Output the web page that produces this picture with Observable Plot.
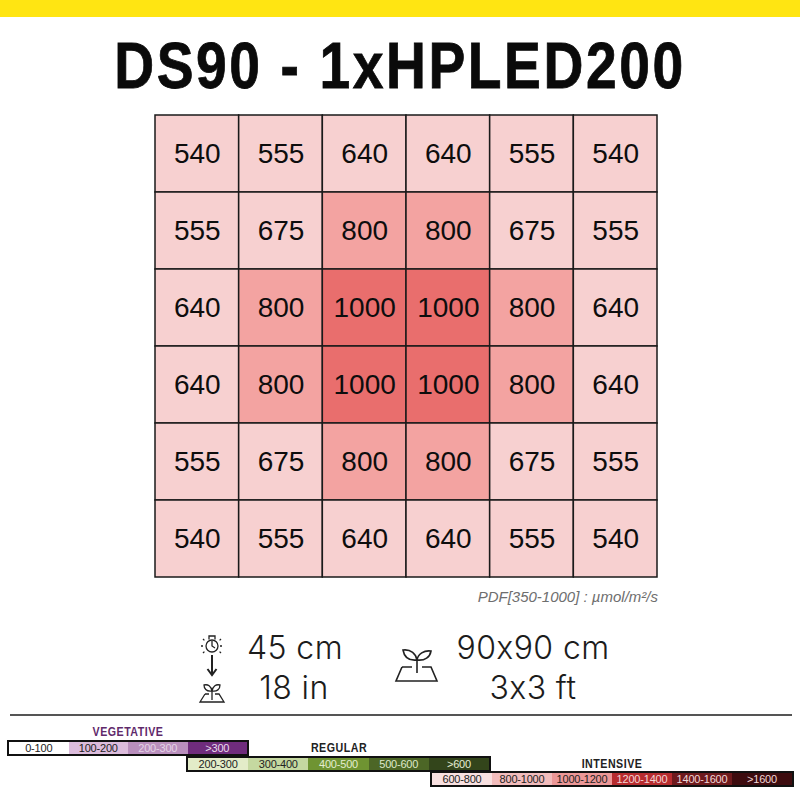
<!DOCTYPE html>
<html><head><meta charset="utf-8">
<script src="https://cdn.jsdelivr.net/npm/d3@7"></script>
<script src="https://cdn.jsdelivr.net/npm/@observablehq/plot@0.6"></script>
<style>
html,body{margin:0;padding:0;background:#fff}
#page{position:relative;width:800px;height:800px;overflow:hidden;font-family:"Liberation Sans",sans-serif}
#page>*{position:absolute}
#bar{left:0;top:0;width:800px;height:17px;background:#ffe512}
#title{left:0;width:800px;top:26px;text-align:center;font:bold 65px/80px "Liberation Sans",sans-serif;color:#0a0a0a;letter-spacing:3px;white-space:pre;-webkit-text-stroke:.8px #0a0a0a;transform:scaleX(.85);transform-origin:50% 50%}
#plot{left:0;top:0}
#plot svg{display:block}
#unit{right:142px;top:588px;font:italic 15px/18px "Liberation Sans",sans-serif;color:#6e6e6e}
.dim{font:300 32px/34px Inter,sans-serif;color:#1c1c1c;text-align:center;white-space:pre;letter-spacing:.4px}
#rule{left:10px;top:714px;width:782px;height:1.5px;background:#555}
.lt{font:bold 13px/14px "Liberation Sans",sans-serif;text-align:center;transform:translateX(-50%) scaleX(.82) scaleY(1.05);letter-spacing:.6px}
.lg{display:flex;box-sizing:border-box;border:2px solid #111;height:16px}
.lg span{flex:1;text-align:center;font:11px/12px "Liberation Sans",sans-serif;letter-spacing:-.2px}
</style></head><body>
<div id="page">
<div id="bar"></div>
<div id="title"></div>
<div id="plot"></div>
<div id="unit"></div>
<div class="dim" id="d1" style="left:225px;top:631px;width:140px"></div>
<div class="dim" id="d2" style="left:225px;top:671px;width:138px"></div>
<div class="dim" id="d3" style="left:433px;top:631px;width:200px"></div>
<div class="dim" id="d4" style="left:433px;top:671px;width:200px"></div>
<svg style="left:195px;top:630px" width="36" height="75" viewBox="0 0 36 75" fill="none" stroke="#222" stroke-width="1.3">
  <circle cx="17" cy="16" r="6"/><path d="M14 9.5 V6 h6 V9.5 M17 11 v5 l3 2"/>
  <path d="M6 16h3M25 16h3M8 9l2 2M26 9l-2 2M8 23l2-2M26 23l-2-2" stroke-dasharray="2 1"/>
  <path d="M17 25 V44 M12.5 39 L17 45 L21.5 39" stroke-width="2"/>
  <path d="M17 70 V61 M17 61 C11 62 9 58 9 55 C13 54 16 56 17 61 C18 56 21 54 25 55 C25 59 22 62 17 61 M10 64 L5 72 H29 L24 64 H20 M10 64 H14" />
</svg>
<svg style="left:393px;top:645px" width="48" height="40" viewBox="0 0 48 40" fill="none" stroke="#222" stroke-width="1.6">
  <path d="M24 28 V15 M24 15 C15 16 11 11 10 5 C18 4 23 9 24 15 C25 9 31 5 38 6 C37 12 32 16 24 15"/>
  <path d="M9 22 L3 36 H44 L38 22 H29 M9 22 H19"/>
</svg>
<div id="rule"></div>
<div id="legend"></div>
</div>
<script>
const rows = ["r1","r2","r3","r4","r5","r6"];
const cols = ["c1","c2","c3","c4","c5","c6"];
const values = [
  [540,555,640,640,555,540],
  [555,675,800,800,675,555],
  [640,800,1000,1000,800,640],
  [640,800,1000,1000,800,640],
  [555,675,800,800,675,555],
  [540,555,640,640,555,540]
];
const shadeDomain = [540,555,640,675,800,1000];
const shadeRange = ["#f7d0d0","#f7d0d0","#f7d0d0","#f7d0d0","#f3a3a1","#e96e6d"];
const titleText = "DS90 - 1xHPLED200";
const unitText = "PDF[350-1000] : µmol/m²/s";
const dims = ["45 cm","18 in","90x90 cm","3x3 ft"];
const vegLabels = ["0-100","100-200","200-300",">300"];
const vegFill = ["#ffffff","#dcbcdc","#b98fbd","#6f2c7c"];
const vegText = ["#222","#222","#e4d4e6","#eadcec"];
const regLabels = ["200-300","300-400","400-500","500-600",">600"];
const regFill = ["#e3ecc8","#c5d8a0","#6f9432","#4c6626","#33451b"];
const regText = ["#222","#222","#e4edcf","#dfe8ca","#e6edd4"];
const intLabels = ["600-800","800-1000","1000-1200","1200-1400","1400-1600",">1600"];
const intFill = ["#f8e0e0","#f2bcbc","#ec9797","#b72c2f","#6e1a1d","#3d0c0f"];
const intText = ["#222","#222","#222","#f3d6d6","#f0d8d8","#f0d8d8"];

const table = rows.flatMap((r,i)=>cols.map((c,j)=>({r,c,v:values[i][j]})));
const chart = Plot.plot({
  width:800, height:590,
  marginLeft:155, marginRight:143, marginTop:115, marginBottom:13,
  x:{type:"band",domain:cols,padding:0,round:false,axis:null},
  y:{type:"band",domain:rows,padding:0,round:false,axis:null},
  color:{type:"ordinal",domain:shadeDomain,range:shadeRange},
  style:{background:"transparent"},
  marks:[
    Plot.cell(table,{x:"c",y:"r",fill:"v",stroke:"#1a1a1a",strokeWidth:1.5}),
    Plot.text(table,{x:"c",y:"r",text:d=>String(d.v),fontSize:28,fill:"#0d0d0d",fontFamily:"Liberation Sans"})
  ]
});
document.getElementById("plot").append(chart);
document.getElementById("title").textContent = titleText;
document.getElementById("unit").textContent = unitText;
["d1","d2","d3","d4"].forEach((id,i)=>document.getElementById(id).textContent = dims[i]);

const lg = document.getElementById("legend");
lg.style.cssText = "left:0;top:0";
function strip(name,color,cx,ty,x,y,w,labels,fills,texts){
  const t=document.createElement("div");t.className="lt";t.textContent=name;
  t.style.cssText=`position:absolute;left:${cx}px;top:${ty}px;color:${color}`;lg.append(t);
  const s=document.createElement("div");s.className="lg";
  s.style.cssText=`position:absolute;left:${x}px;top:${y}px;width:${w}px`;
  labels.forEach((l,i)=>{const e=document.createElement("span");e.textContent=l;e.style.background=fills[i];e.style.color=texts[i];s.append(e);});
  lg.append(s);
}
strip("VEGETATIVE","#5f2a6b",128,725,7,740,242,vegLabels,vegFill,vegText);
strip("REGULAR","#222",339,741,186,756,305,regLabels,regFill,regText);
strip("INTENSIVE","#222",612,757,430,771,364,intLabels,intFill,intText);
</script>
</body></html>
